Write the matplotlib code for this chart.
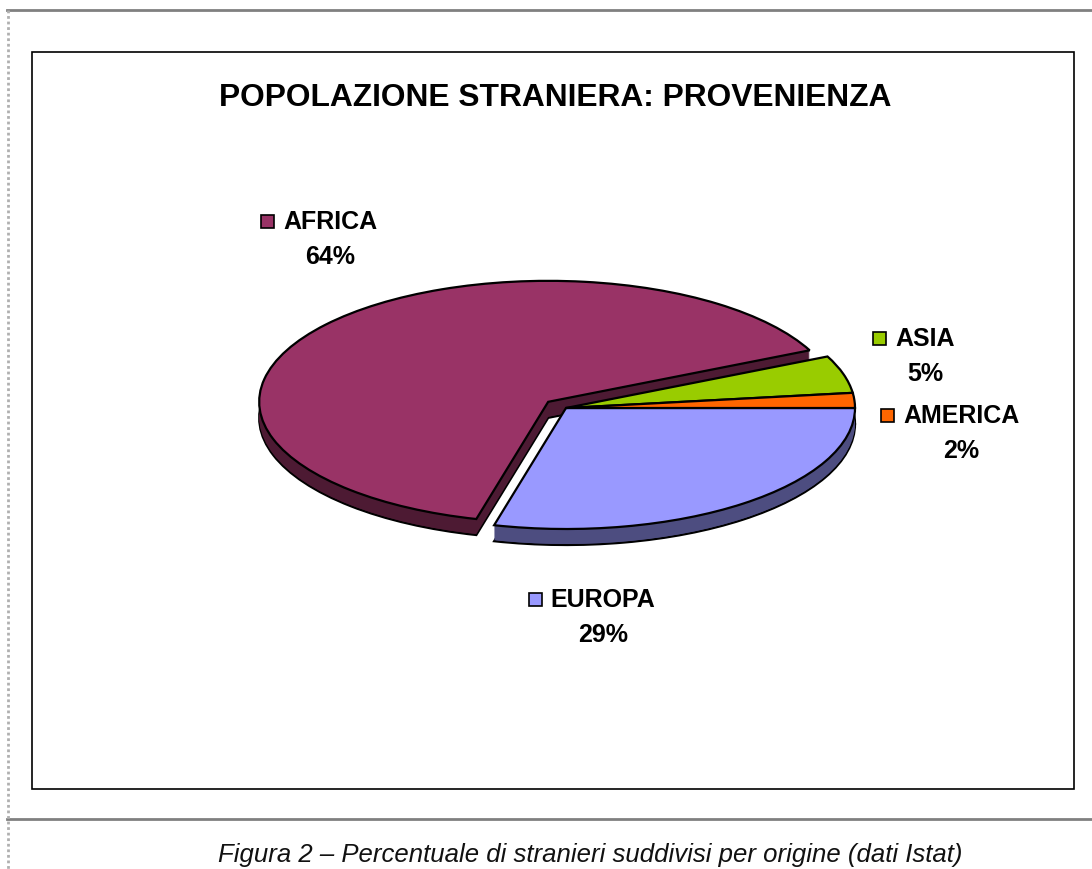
import matplotlib
matplotlib.use('Agg')
import matplotlib.pyplot as plt
from matplotlib.patches import Rectangle
from matplotlib.transforms import Affine2D

# dati (percentuali)
categories = ['EUROPA', 'AFRICA', 'ASIA', 'AMERICA']
shares = [29, 64, 5, 2]
pct_labels = ['29%', '64%', '5%', '2%']
colors = ['#9999ff', '#993366', '#99cc00', '#ff6600']
side_colors = ['#4d4d80', '#4d1a33', '#4d6600', '#803300']
explode = [0, 0.08, 0, 0]

title = 'POPOLAZIONE STRANIERA: PROVENIENZA'
caption = 'Figura 2 \u2013 Percentuale di stranieri suddivisi per origine (dati Istat)'

plt.rcParams['font.family'] = ['Liberation Sans', 'DejaVu Sans']

W, H = 1092, 870
fig = plt.figure(figsize=(W / 100, H / 100), dpi=100)
ax = fig.add_axes([0, 0, 1, 1])

# geometria della torta (pixel)
cx, cy, rx, ry = 566, 409, 289, 121
depth = 16


def pie_layer(shift, faces, edge, lw):
    wedges, _ = ax.pie(shares, explode=explode, colors=faces, startangle=0,
                       counterclock=False,
                       wedgeprops=dict(edgecolor=edge, linewidth=lw))
    tr = Affine2D().scale(rx, -ry).translate(cx, cy + shift) + ax.transData
    for w in wedges:
        w.set_transform(tr)
    return wedges


# bordo laterale 3D: strati scuri impilati
pie_layer(depth, side_colors, 'black', 1.6)
for k in range(depth - 1, 0, -1):
    pie_layer(k, side_colors, 'none', 0)
# faccia superiore
pie_layer(0, colors, 'black', 1.6)

ax.set_aspect('auto')
ax.set_xlim(0, W)
ax.set_ylim(H, 0)
ax.axis('off')

# cornici
ax.add_patch(Rectangle((32, 53), 1042, 737, facecolor='none',
                       edgecolor='black', linewidth=1.2))
ax.plot([7, W], [11, 11], color='#808080', linewidth=2)
ax.plot([7, W], [820, 820], color='#808080', linewidth=2)
ax.plot([8, 8], [11, H], color='#b0b0b0', linewidth=2, linestyle=(0, (1, 1)))

ax.text(555, 98, title, fontsize=22.9, fontweight='bold', ha='center', va='center')
ax.text(590, 855, caption, fontsize=18.5, style='italic', color='#111111',
        ha='center', va='center')

# etichette con chiave colorata
label_pos = {'AFRICA': (330, 222), 'ASIA': (925, 339),
             'AMERICA': (961, 416), 'EUROPA': (603, 600)}
name_texts = []
for cat, pct, col in zip(categories, pct_labels, colors):
    x, y = label_pos[cat]
    t = ax.text(x, y, cat, fontsize=18, fontweight='bold', ha='center', va='center')
    ax.text(x, y + 35, pct, fontsize=18, fontweight='bold', ha='center', va='center')
    name_texts.append((t, col, y))

fig.canvas.draw()
renderer = fig.canvas.get_renderer()
inv = ax.transData.inverted()
for t, col, y in name_texts:
    bb = t.get_window_extent(renderer)
    left = inv.transform((bb.x0, bb.y0))[0]
    ax.add_patch(Rectangle((left - 22, y - 6.5), 13, 13, facecolor=col,
                           edgecolor='black', linewidth=1.2))

fig.savefig('out.png', dpi=100, facecolor='white')
